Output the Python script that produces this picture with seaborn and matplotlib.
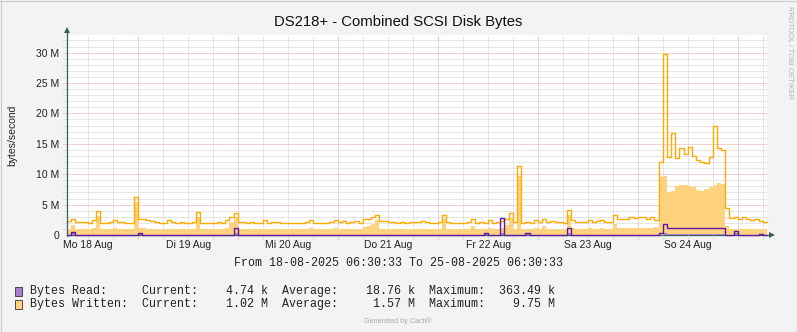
import numpy as np
import pandas as pd
import matplotlib
matplotlib.use("Agg")
import matplotlib.pyplot as plt
import seaborn as sns
from matplotlib.patches import Rectangle, Polygon
from matplotlib.lines import Line2D

sns.set_style("white")
plt.rcParams['font.family'] = ['Liberation Sans', 'DejaVu Sans']

# ---------------- data (hourly, 18-08-2025 06:30 .. 25-08-2025 06:30) ----------------
# Bytes Written, maximum (line), in M bytes/s
written_max = [
    2.3, 2.7, 2.1, 2.1, 2.2, 2.0, 2.4, 3.9, 2.0, 2.0, 2.1, 2.4, 2.1, 2.1, 2.0, 2.0, 6.3, 2.6, 2.6, 2.4, 2.3, 2.1, 1.9, 2.0,
    2.4, 2.1, 2.0, 2.1, 2.0, 2.0, 2.1, 3.8, 2.0, 2.0, 1.9, 2.0, 2.1, 1.9, 2.4, 3.0, 3.7, 2.2, 2.2, 2.0, 2.1, 2.0, 2.0, 2.4,
    2.0, 2.1, 2.1, 2.0, 1.9, 1.9, 2.0, 2.0, 2.0, 2.1, 2.4, 1.9, 1.9, 2.0, 2.0, 2.1, 2.4, 2.1, 2.3, 2.0, 2.1, 2.3, 2.0, 2.6,
    2.7, 3.0, 3.3, 2.3, 2.3, 2.1, 2.2, 2.0, 2.1, 2.0, 2.2, 2.1, 2.2, 2.3, 2.1, 2.0, 2.0, 2.2, 3.3, 2.1, 1.9, 2.0, 1.9, 2.0,
    2.1, 2.6, 2.0, 2.1, 2.0, 2.4, 2.0, 2.1, 2.3, 2.6, 3.6, 2.2, 11.3, 2.0, 2.1, 2.0, 2.4, 2.1, 2.6, 2.1, 2.3, 2.1, 2.2, 2.0,
    4.1, 2.4, 2.1, 2.1, 2.2, 2.4, 2.2, 2.3, 2.4, 2.2, 2.2, 3.3, 2.6, 2.7, 2.6, 3.0, 2.8, 3.0, 2.9, 2.7, 3.0, 2.5, 12.0, 29.8,
    12.8, 16.7, 12.6, 14.3, 13.4, 14.5, 13.0, 12.3, 12.0, 11.8, 12.8, 18.0, 14.3, 14.0, 4.4, 2.8, 2.9, 2.6, 2.9, 2.7, 2.4, 2.6, 2.3, 2.1,
]
# Bytes Written, average (area), in M bytes/s
written_avg = [
    1.0, 1.6, 1.0, 1.0, 1.0, 1.0, 1.1, 3.2, 1.0, 1.0, 1.0, 1.1, 1.0, 1.0, 1.0, 1.0, 5.5, 1.2, 1.1, 1.0, 1.0, 1.0, 0.9, 1.0,
    1.0, 1.0, 1.0, 1.0, 1.0, 1.0, 1.0, 3.0, 1.0, 1.0, 1.0, 1.0, 1.0, 1.0, 1.1, 2.2, 3.0, 1.0, 1.0, 1.0, 1.0, 1.0, 1.0, 1.0,
    1.0, 1.0, 1.0, 1.0, 1.0, 1.0, 1.0, 1.0, 1.0, 1.0, 1.2, 1.0, 1.0, 1.0, 1.0, 1.0, 1.1, 1.0, 1.0, 1.0, 1.0, 1.0, 1.0, 1.3,
    1.5, 1.8, 2.5, 1.0, 1.0, 1.0, 1.0, 1.0, 1.0, 1.0, 1.0, 1.0, 1.0, 1.0, 1.0, 1.0, 1.0, 1.0, 2.6, 1.0, 1.0, 1.0, 1.0, 1.0,
    1.0, 1.5, 1.0, 1.0, 1.0, 1.2, 1.0, 1.0, 1.1, 1.6, 2.8, 1.0, 9.75, 1.0, 1.0, 1.0, 1.1, 1.0, 1.5, 1.0, 1.0, 1.0, 1.0, 1.0,
    3.3, 1.1, 1.0, 1.0, 1.0, 1.1, 1.0, 1.0, 1.1, 1.0, 1.0, 1.8, 1.1, 1.1, 1.1, 1.2, 1.1, 1.2, 1.1, 1.1, 1.2, 1.3, 9.6, 9.7,
    7.0, 7.2, 8.0, 8.3, 8.2, 8.1, 7.9, 7.4, 7.3, 7.6, 7.9, 8.2, 8.5, 8.4, 1.5, 1.0, 1.0, 1.0, 1.0, 1.0, 1.0, 1.0, 1.0, 1.0,
]
# Bytes Read, maximum (line), in k bytes/s
read_max = [
    20, 450, 20, 10, 10, 10, 10, 10, 10, 10, 10, 10, 10, 10, 10, 10, 10, 250, 10, 10, 10, 10, 10, 10,
    10, 10, 10, 10, 10, 10, 10, 10, 10, 10, 10, 10, 10, 10, 10, 10, 1200, 10, 10, 10, 10, 10, 10, 10,
    10, 10, 10, 10, 10, 10, 10, 10, 10, 10, 10, 10, 10, 10, 10, 10, 10, 10, 10, 10, 10, 10, 10, 10,
    10, 10, 10, 10, 10, 10, 10, 10, 10, 10, 10, 10, 10, 10, 10, 10, 10, 10, 10, 10, 10, 10, 10, 10,
    10, 10, 10, 10, 250, 10, 10, 10, 2800, 10, 10, 10, 10, 10, 250, 10, 10, 10, 10, 10, 10, 10, 10, 10,
    1200, 10, 10, 10, 10, 10, 10, 10, 10, 10, 10, 10, 10, 10, 10, 10, 10, 10, 10, 10, 10, 10, 300, 1800,
    1100, 1100, 1100, 1100, 1100, 1100, 1100, 1100, 1100, 1100, 1100, 1100, 1100, 1100, 50, 10, 700, 10, 10, 10, 10, 10, 200, 10,
]
# Bytes Read, average (area), in k bytes/s
read_avg = [
    5, 250, 5, 5, 5, 5, 5, 5, 5, 5, 5, 5, 5, 5, 5, 5, 5, 150, 5, 5, 5, 5, 5, 5,
    5, 5, 5, 5, 5, 5, 5, 5, 5, 5, 5, 5, 5, 5, 5, 5, 360, 5, 5, 5, 5, 5, 5, 5,
    5, 5, 5, 5, 5, 5, 5, 5, 5, 5, 5, 5, 5, 5, 5, 5, 5, 5, 5, 5, 5, 5, 5, 5,
    5, 5, 5, 5, 5, 5, 5, 5, 5, 5, 5, 5, 5, 5, 5, 5, 5, 5, 5, 5, 5, 5, 5, 5,
    5, 5, 5, 5, 100, 5, 5, 5, 360, 5, 5, 5, 5, 5, 100, 5, 5, 5, 5, 5, 5, 5, 5, 5,
    300, 5, 5, 5, 5, 5, 5, 5, 5, 5, 5, 5, 5, 5, 5, 5, 5, 5, 5, 5, 5, 5, 5, 350,
    200, 200, 200, 200, 200, 200, 200, 200, 200, 200, 200, 200, 200, 200, 5, 5, 250, 5, 5, 5, 5, 5, 80, 5,
]

day_labels = ["Mo 18 Aug", "Di 19 Aug", "Mi 20 Aug", "Do 21 Aug", "Fr 22 Aug", "Sa 23 Aug", "So 24 Aug"]
y_ticks = [0, 5, 10, 15, 20, 25, 30]
y_tick_labels = ["0", "5 M", "10 M", "15 M", "20 M", "25 M", "30 M"]
title = "DS218+ - Combined SCSI Disk Bytes"
y_label = "bytes/second"
period_text = "From 18-08-2025 06:30:33 To 25-08-2025 06:30:33"
legend_rows = [
    ("Bytes Read:", "4.74 k", "18.76 k", "363.49 k"),
    ("Bytes Written:", "1.02 M", "1.57 M", "9.75 M"),
]
first_midnight = 17.1  # hours after graph start

# ---------------- colours ----------------
BG = "#F3F3F3"
W_AREA = "#FFD27F"
W_LINE = "#FFAA00"
R_AREA = "#A57FD3"
R_LINE = "#5E1A9E"
AXIS = "#3B5F55"
GRID_MINOR = "#CFCFCF"
GRID_MAJOR = "#EBA3A3"

W, H = 797, 332
fig = plt.figure(figsize=(W / 100, H / 100), dpi=100, facecolor=BG)


def fx(x):
    return x / W


def fy(y):
    return 1 - y / H


X0, X1, Y0, Y1 = 67, 767, 235, 35
ax = fig.add_axes([fx(X0), fy(Y0), (X1 - X0) / W, (Y0 - Y1) / H])
ax.set_facecolor("white")
n = len(written_max)
ymax = (Y0 - Y1) / 6.08
ax.set_xlim(0, n)
ax.set_ylim(0, ymax)
for s in ax.spines.values():
    s.set_visible(False)

# grid
dots = (0, (1, 1))
for j in range(-2, 28):
    h = first_midnight + 6 * j
    if 0 < h < n:
        major = (j % 4 == 0)
        ax.axvline(h, ymin=-0.018, ymax=1, color=GRID_MAJOR if major else GRID_MINOR,
                   lw=0.72, ls=dots, zorder=0.5, clip_on=False)
for v in range(1, int(ymax) + 1):
    major = (v % 5 == 0)
    ax.axhline(v, xmin=-0.006, xmax=1, color=GRID_MAJOR if major else GRID_MINOR,
               lw=0.72, ls=dots, zorder=0.5, clip_on=False)

# data
hours = np.arange(n + 1)


def ext(a, scale=1.0):
    arr = np.asarray(a, dtype=float) / scale
    return np.append(arr, arr[-1])


df = pd.DataFrame({
    "hour": hours,
    "w_max": ext(written_max),
    "w_avg": ext(written_avg),
    "r_max": ext(read_max, 1000.0),
    "r_avg": ext(read_avg, 1000.0),
})

ax.fill_between(df["hour"], 0, df["w_avg"], step="post", color=W_AREA, lw=0, zorder=1)
sns.lineplot(data=df, x="hour", y="w_max", ax=ax, color=W_LINE, lw=1.0,
             drawstyle="steps-post", zorder=2, legend=False)
ax.fill_between(df["hour"], 0, df["r_avg"], step="post", color=R_AREA, lw=0, zorder=3)
sns.lineplot(data=df, x="hour", y="r_max", ax=ax, color=R_LINE, lw=1.0,
             drawstyle="steps-post", zorder=4, legend=False)
for ln in ax.lines[-2:]:
    ln.set_clip_on(False)

ax.set_xlabel("")
ax.set_ylabel("")
noons = [first_midnight - 12 + 24 * k for k in range(len(day_labels))]
ax.set_xticks(noons)
ax.set_xticklabels(day_labels)
ax.set_yticks(y_ticks)
ax.set_yticklabels(y_tick_labels)
ax.tick_params(axis="both", length=0, labelsize=7.5, colors="#222222")
ax.tick_params(axis="y", pad=5.5)
ax.tick_params(axis="x", pad=3.5)

# axes with arrows
fig.add_artist(Line2D([fx(X0), fx(X0)], [fy(Y0 + 1), fy(31)], color=AXIS, lw=0.9))
fig.add_artist(Polygon([[fx(X0 - 3), fy(33)], [fx(X0 + 3), fy(33)], [fx(X0), fy(27)]],
                       closed=True, color=AXIS, lw=0))
fig.add_artist(Line2D([fx(X0), fx(770)], [fy(Y0), fy(Y0)], color=AXIS, lw=0.9, zorder=0))
fig.add_artist(Polygon([[fx(769), fy(Y0 - 3)], [fx(769), fy(Y0 + 3)], [fx(775), fy(Y0)]],
                       closed=True, color=AXIS, lw=0))

# texts
fig.text(fx(398), fy(22), title, ha="center", va="center", fontsize=10.7, color="#111111")
fig.text(fx(12), fy(135), y_label, ha="center", va="center", rotation=90, fontsize=7.5, color="#222222")
fig.text(fx(789), fy(6), "RRDTOOL / TOBI OETIKER", ha="center", va="top", rotation=270,
         fontsize=5.3, color="#B4B4B4")
mono = dict(family=["Liberation Mono", "DejaVu Sans Mono"], fontsize=8.4, color="#222222")
fig.text(fx(398), fy(263), period_text, ha="center", va="center", **mono)
swatches = [R_AREA, W_AREA]
for i, (name, cur, avg, mx) in enumerate(legend_rows):
    yy = 291 + 13 * i
    line = f"{name:<16}Current:{cur:>10}  Average:{avg:>11}  Maximum:{mx:>10}"
    fig.text(fx(30), fy(yy), line, ha="left", va="center", **mono)
    fig.add_artist(Rectangle((fx(15), fy(yy + 5)), 7 / W, 9 / H, facecolor=swatches[i],
                             edgecolor="#333333", lw=0.6))
fig.text(fx(398), fy(321), "Generated by Cacti\u00ae", ha="center", va="center",
         fontsize=5.2, color="#AAAAAA")

# frame
fig.add_artist(Line2D([0, 1], [fy(0.5), fy(0.5)], color="#CCCCCC", lw=0.8))
fig.add_artist(Line2D([fx(0.5), fx(0.5)], [0, 1], color="#CCCCCC", lw=0.8))
fig.add_artist(Line2D([0, 1], [fy(331.5), fy(331.5)], color="#999999", lw=0.8))
fig.add_artist(Line2D([fx(796.5), fx(796.5)], [0, 1], color="#999999", lw=0.8))

fig.savefig("out.png", dpi=100, facecolor=BG)
